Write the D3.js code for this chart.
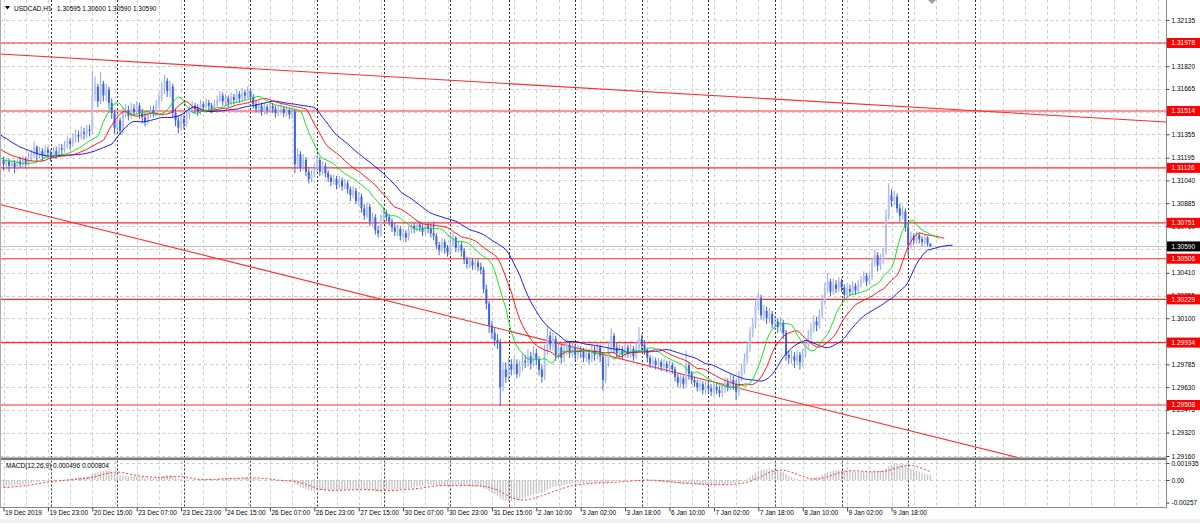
<!DOCTYPE html>
<html><head><meta charset="utf-8">
<script src="https://cdn.jsdelivr.net/npm/d3@7"></script>
<style>
body{margin:0;background:#fff;}
svg{display:block;}
text{font-family:"Liberation Sans",Arial,sans-serif;font-size:6.5px;fill:#000;}
</style>
</head><body>
<svg id="c" width="1200" height="523"></svg>
<script>
// ---------------- DATA ----------------
const symbolLabel = "USDCAD,H1";
const headerOHLC = "1.30595 1.30600 1.30590 1.30590";
const macdLabel = "MACD(12,26,9) 0.000496 0.000804";

const timeLabels = ["19 Dec 2019","19 Dec 23:00","20 Dec 15:00","23 Dec 07:00","23 Dec 23:00","24 Dec 15:00",
  "26 Dec 07:00","26 Dec 23:00","27 Dec 15:00","30 Dec 07:00","30 Dec 23:00","31 Dec 15:00","2 Jan 10:00",
  "3 Jan 02:00","3 Jan 18:00","6 Jan 10:00","7 Jan 02:00","7 Jan 18:00","8 Jan 10:00","9 Jan 02:00","9 Jan 18:00"];
const timeLabelBars = [0,16,32,48,64,80,96,112,128,144,160,176,192,208,224,240,256,272,288,304,320];
const daySeparatorBars = [17,41,65,89,113,137,161,182,206,230,254,278,302,326,350];

const priceTicks = [1.32135,1.31980,1.31820,1.31665,1.31510,1.31355,1.31195,1.31040,1.30885,1.30730,
  1.30575,1.30410,1.30255,1.30100,1.29945,1.29785,1.29630,1.29475,1.29320,1.29160];
const levelPrices = [1.31978,1.31514,1.31126,1.30751,1.30506,1.30229,1.29934,1.29508];
const bidPrice = 1.30590;

const macdTickValues = [0.001935, 0, -0.00257];
const macdTickLabels = ["0.001935","0.00","-0.00257"];

const trendUpper = [{bar:36, price:1.31862},{bar:413, price:1.31446}];
const trendLower = [{bar:0, price:1.30870},{bar:280, price:1.29552}];

// history before the visible window (used to warm up the indicators)
const priorCloses = [1.3168,1.3166,1.3169,1.3164,1.3160,1.3162,1.3158,1.3155,1.3157,1.3152,
  1.3150,1.3148,1.3151,1.3146,1.3143,1.3145,1.3140,1.3138,1.3141,1.3136,
  1.3133,1.3135,1.3131,1.3128,1.3130,1.3126,1.3124,1.3127,1.3122,1.3120,
  1.3123,1.3119,1.3117,1.3120,1.3116,1.3114,1.3117,1.3115,1.3113,1.3118];

const firstOpen = 1.3118;
const close = [
1.3115,1.3117,1.3114,1.3116,1.3113,1.3117,1.3115,1.3118,1.3116,1.3120,
1.3122,1.3127,1.3122,1.3124,1.3121,1.3125,1.3123,1.3121,1.3124,1.3122,
1.3126,1.3125,1.3128,1.3131,1.3129,1.3133,1.3135,1.3134,1.3137,1.3136,
1.3139,1.3138,1.3163,1.3168,1.3158,1.3170,1.3162,1.3166,1.3157,1.3150,
1.3140,1.3145,1.3138,1.3150,1.3152,1.3148,1.3153,1.3151,1.3155,1.3150,
1.3147,1.3144,1.3149,1.3152,1.3150,1.3155,1.3160,1.3167,1.3172,1.3165,
1.3168,1.3150,1.3145,1.3140,1.3146,1.3143,1.3149,1.3152,1.3155,1.3153,
1.3151,1.3156,1.3154,1.3157,1.3155,1.3153,1.3156,1.3159,1.3162,1.3158,
1.3160,1.3157,1.3161,1.3159,1.3163,1.3160,1.3164,1.3162,1.3165,1.3161,
1.3156,1.3153,1.3155,1.3151,1.3154,1.3152,1.3155,1.3153,1.3150,1.3152,
1.3153,1.3150,1.3152,1.3149,1.3151,1.3115,1.3122,1.3113,1.3118,1.3110,
1.3105,1.3108,1.3112,1.3118,1.3110,1.3114,1.3109,1.3106,1.3103,1.3105,
1.3101,1.3104,1.3100,1.3102,1.3098,1.3094,1.3097,1.3090,1.3093,1.3085,
1.3080,1.3086,1.3076,1.3079,1.3070,1.3068,1.3078,1.3082,1.3079,1.3076,
1.3072,1.3069,1.3071,1.3066,1.3068,1.3065,1.3070,1.3073,1.3071,1.3074,
1.3072,1.3069,1.3073,1.3071,1.3068,1.3066,1.3060,1.3057,1.3062,1.3058,
1.3055,1.3061,1.3065,1.3058,1.3060,1.3056,1.3050,1.3047,1.3049,1.3046,
1.3048,1.3045,1.3043,1.3030,1.3020,1.3005,1.3000,1.2995,1.2993,1.2963,
1.2975,1.2970,1.2978,1.2975,1.2979,1.2972,1.2977,1.2981,1.2980,1.2984,
1.2979,1.2986,1.2982,1.2975,1.2970,1.2988,1.2998,1.2992,1.2996,1.2985,
1.2990,1.2983,1.2988,1.2992,1.2986,1.2990,1.2985,1.2988,1.2987,1.2983,
1.2986,1.2982,1.2988,1.2985,1.2990,1.2984,1.2968,1.2980,1.2990,1.2998,
1.2990,1.2986,1.2988,1.2985,1.2990,1.2986,1.2989,1.2984,1.2990,1.2996,
1.2992,1.2988,1.2983,1.2979,1.2981,1.2978,1.2980,1.2977,1.2979,1.2976,
1.2978,1.2975,1.2970,1.2966,1.2969,1.2965,1.2978,1.2972,1.2968,1.2966,
1.2963,1.2965,1.2961,1.2964,1.2962,1.2960,1.2963,1.2961,1.2959,1.2962,
1.2966,1.2963,1.2968,1.2965,1.2960,1.2970,1.2975,1.2982,1.2990,1.3000,
1.3006,1.3018,1.3024,1.3012,1.3015,1.3010,1.3013,1.3006,1.3008,1.3004,
1.3007,1.3000,1.2985,1.2983,1.2984,1.2981,1.2985,1.2980,1.2986,1.2992,
1.2998,1.3003,1.3008,1.3005,1.3012,1.3022,1.3030,1.3035,1.3028,1.3033,
1.3030,1.3035,1.3031,1.3026,1.3030,1.3028,1.3032,1.3029,1.3033,1.3036,
1.3039,1.3035,1.3038,1.3048,1.3053,1.3046,1.3050,1.3055,1.3080,1.3094,
1.3090,1.3093,1.3085,1.3080,1.3083,1.3072,1.3060,1.3066,1.3063,1.3067,
1.3064,1.3062,1.3065,1.3061,1.3059];
const high = [
1.3120,1.3119,1.3119,1.3118,1.3118,1.3119,1.3120,1.3121,1.3120,1.3123,
1.3125,1.3131,1.3128,1.3127,1.3126,1.3128,1.3127,1.3125,1.3127,1.3127,
1.3129,1.3129,1.3131,1.3134,1.3133,1.3136,1.3139,1.3138,1.3141,1.3140,
1.3142,1.3142,1.3179,1.3175,1.3170,1.3178,1.3172,1.3170,1.3168,1.3160,
1.3152,1.3149,1.3147,1.3154,1.3156,1.3155,1.3157,1.3156,1.3158,1.3157,
1.3153,1.3150,1.3152,1.3155,1.3155,1.3159,1.3164,1.3171,1.3176,1.3174,
1.3172,1.3170,1.3153,1.3148,1.3149,1.3149,1.3152,1.3155,1.3158,1.3157,
1.3156,1.3159,1.3158,1.3160,1.3159,1.3157,1.3159,1.3162,1.3165,1.3164,
1.3163,1.3162,1.3164,1.3163,1.3166,1.3165,1.3167,1.3166,1.3168,1.3167,
1.3163,1.3158,1.3158,1.3157,1.3157,1.3156,1.3158,1.3157,1.3155,1.3155,
1.3156,1.3155,1.3155,1.3154,1.3154,1.3153,1.3126,1.3124,1.3122,1.3120,
1.3112,1.3111,1.3115,1.3122,1.3120,1.3117,1.3116,1.3111,1.3108,1.3108,
1.3107,1.3107,1.3106,1.3105,1.3104,1.3100,1.3100,1.3099,1.3096,1.3095,
1.3088,1.3089,1.3088,1.3082,1.3081,1.3073,1.3081,1.3086,1.3084,1.3081,
1.3078,1.3075,1.3074,1.3073,1.3071,1.3070,1.3073,1.3076,1.3075,1.3077,
1.3076,1.3074,1.3076,1.3075,1.3074,1.3076,1.3068,1.3062,1.3065,1.3064,
1.3060,1.3069,1.3068,1.3066,1.3063,1.3062,1.3058,1.3052,1.3052,1.3051,
1.3051,1.3050,1.3048,1.3045,1.3033,1.3022,1.3008,1.3004,1.2999,1.2996,
1.2980,1.2980,1.2983,1.2982,1.2984,1.2982,1.2981,1.2986,1.2985,1.2989,
1.2987,1.2991,1.2989,1.2984,1.2978,1.2992,1.3005,1.3001,1.3000,1.2998,
1.2994,1.2992,1.2992,1.2996,1.2994,1.2994,1.2992,1.2992,1.2991,1.2990,
1.2990,1.2989,1.2992,1.2991,1.2994,1.2992,1.2987,1.2984,1.2994,1.3003,
1.3000,1.2993,1.2992,1.2991,1.2993,1.2992,1.2993,1.2991,1.2994,1.3004,
1.2999,1.2995,1.2990,1.2985,1.2984,1.2983,1.2983,1.2982,1.2982,1.2981,
1.2981,1.2980,1.2977,1.2972,1.2972,1.2971,1.2988,1.2980,1.2974,1.2970,
1.2968,1.2968,1.2967,1.2967,1.2967,1.2965,1.2966,1.2966,1.2964,1.2966,
1.2970,1.2969,1.2972,1.2971,1.2968,1.2974,1.2979,1.2986,1.2994,1.3004,
1.3010,1.3022,1.3028,1.3026,1.3019,1.3018,1.3017,1.3015,1.3012,1.3010,
1.3011,1.3009,1.3002,1.2988,1.2988,1.2987,1.2988,1.2987,1.2989,1.2995,
1.3002,1.3007,1.3012,1.3011,1.3016,1.3026,1.3034,1.3041,1.3037,1.3037,
1.3036,1.3038,1.3037,1.3033,1.3033,1.3033,1.3035,1.3034,1.3036,1.3039,
1.3042,1.3041,1.3041,1.3051,1.3057,1.3055,1.3054,1.3058,1.3084,1.3102,
1.3098,1.3097,1.3095,1.3088,1.3087,1.3085,1.3075,1.3069,1.3068,1.3069,
1.3068,1.3066,1.3067,1.3066,1.3061];
const low = [
1.3111,1.3112,1.3110,1.3112,1.3109,1.3111,1.3113,1.3113,1.3113,1.3114,
1.3117,1.3119,1.3117,1.3119,1.3117,1.3119,1.3119,1.3117,1.3119,1.3119,
1.3120,1.3122,1.3123,1.3126,1.3125,1.3127,1.3130,1.3130,1.3132,1.3132,
1.3133,1.3134,1.3135,1.3158,1.3154,1.3156,1.3158,1.3158,1.3153,1.3146,
1.3136,1.3137,1.3135,1.3136,1.3147,1.3145,1.3146,1.3148,1.3149,1.3146,
1.3143,1.3141,1.3142,1.3147,1.3147,1.3148,1.3153,1.3158,1.3163,1.3161,
1.3161,1.3147,1.3141,1.3136,1.3138,1.3139,1.3141,1.3146,1.3150,1.3150,
1.3148,1.3149,1.3151,1.3152,1.3152,1.3150,1.3151,1.3154,1.3157,1.3155,
1.3155,1.3154,1.3155,1.3156,1.3157,1.3157,1.3158,1.3159,1.3160,1.3158,
1.3153,1.3150,1.3150,1.3148,1.3149,1.3149,1.3150,1.3150,1.3147,1.3148,
1.3149,1.3147,1.3148,1.3146,1.3146,1.3109,1.3112,1.3110,1.3111,1.3107,
1.3102,1.3103,1.3106,1.3110,1.3107,1.3108,1.3106,1.3103,1.3100,1.3101,
1.3098,1.3099,1.3097,1.3098,1.3095,1.3090,1.3092,1.3088,1.3087,1.3082,
1.3077,1.3078,1.3073,1.3073,1.3067,1.3065,1.3066,1.3076,1.3076,1.3073,
1.3069,1.3066,1.3066,1.3063,1.3063,1.3062,1.3063,1.3068,1.3068,1.3069,
1.3069,1.3066,1.3067,1.3068,1.3065,1.3063,1.3057,1.3053,1.3055,1.3054,
1.3052,1.3053,1.3059,1.3055,1.3055,1.3052,1.3047,1.3044,1.3044,1.3043,
1.3043,1.3042,1.3040,1.3027,1.3016,1.3000,1.2996,1.2991,1.2989,1.2950,
1.2960,1.2966,1.2967,1.2971,1.2972,1.2969,1.2970,1.2974,1.2976,1.2977,
1.2975,1.2977,1.2978,1.2971,1.2966,1.2968,1.2985,1.2988,1.2988,1.2981,
1.2982,1.2979,1.2980,1.2985,1.2983,1.2983,1.2981,1.2982,1.2983,1.2980,
1.2980,1.2979,1.2980,1.2981,1.2982,1.2980,1.2961,1.2966,1.2977,1.2987,
1.2986,1.2983,1.2983,1.2982,1.2983,1.2983,1.2983,1.2981,1.2982,1.2987,
1.2988,1.2985,1.2980,1.2976,1.2976,1.2975,1.2975,1.2974,1.2974,1.2973,
1.2973,1.2972,1.2967,1.2963,1.2963,1.2962,1.2963,1.2968,1.2965,1.2963,
1.2960,1.2960,1.2958,1.2958,1.2959,1.2957,1.2957,1.2958,1.2956,1.2956,
1.2959,1.2960,1.2961,1.2961,1.2954,1.2957,1.2967,1.2972,1.2979,1.2987,
1.2997,1.3003,1.3015,1.3009,1.3008,1.3006,1.3007,1.3003,1.3002,1.3000,
1.3001,1.2996,1.2981,1.2979,1.2979,1.2976,1.2978,1.2975,1.2977,1.2983,
1.2989,1.2995,1.3000,1.3001,1.3003,1.3010,1.3019,1.3027,1.3025,1.3026,
1.3027,1.3028,1.3028,1.3023,1.3024,1.3025,1.3026,1.3026,1.3027,1.3031,
1.3034,1.3032,1.3033,1.3036,1.3045,1.3042,1.3043,1.3047,1.3053,1.3077,
1.3086,1.3087,1.3082,1.3076,1.3077,1.3069,1.3052,1.3057,1.3060,1.3061,
1.3061,1.3059,1.3060,1.3059,1.3059];

// ---------------- LAYOUT ----------------
const plotRight = 1166, mainBottom = 457.5, macdTop = 460.5, macdBottom = 507;
const svg = d3.select("#c");
const x = d3.scaleLinear().domain([0, 320]).range([3.5, 3.5 + 320 * 2.775]);
const y = d3.scaleLinear().domain([1.29160, 1.32135]).range([456, 20]);
const ym = d3.scaleLinear().domain([-0.00257, 0.001935]).range([502.6, 463]);

svg.append("rect").attr("width",1200).attr("height",523).attr("fill","#fff");
svg.append("rect").attr("x",0).attr("y",519).attr("width",1200).attr("height",4).attr("fill","#f0f0f0");

const defs = svg.append("defs");
defs.append("clipPath").attr("id","clipMain").append("rect").attr("x",0).attr("y",0).attr("width",plotRight).attr("height",mainBottom);
defs.append("clipPath").attr("id","clipMacd").append("rect").attr("x",0).attr("y",macdTop).attr("width",plotRight).attr("height",macdBottom-macdTop);

const gMain = svg.append("g").attr("clip-path","url(#clipMain)");
const gMacd = svg.append("g").attr("clip-path","url(#clipMacd)");

// ---- grid ----
const gridBars = d3.range(0, 420, 8).filter(b => x(b) < plotRight);
[gMain, gMacd].forEach((g, idx) => {
  const y0 = idx === 0 ? 0 : macdTop, y1 = idx === 0 ? mainBottom : macdBottom;
  g.selectAll(null).data(gridBars).join("line")
    .attr("x1", d => Math.round(x(d)) + 0.5).attr("x2", d => Math.round(x(d)) + 0.5)
    .attr("y1", y0).attr("y2", y1)
    .attr("stroke", "#cdcdcd").attr("stroke-dasharray", "3,3");
});
gMain.selectAll(null).data(priceTicks).join("line")
  .attr("x1", 0).attr("x2", plotRight)
  .attr("y1", d => Math.round(y(d)) + 0.5).attr("y2", d => Math.round(y(d)) + 0.5)
  .attr("stroke", "#cdcdcd").attr("stroke-dasharray", "3,3");
gMacd.selectAll(null).data([0.001935, 0]).join("line")
  .attr("x1", 0).attr("x2", plotRight)
  .attr("y1", d => Math.round(ym(d)) + 0.5).attr("y2", d => Math.round(ym(d)) + 0.5)
  .attr("stroke", "#cdcdcd").attr("stroke-dasharray", "3,3");

// ---- day separators ----
[gMain, gMacd].forEach((g, idx) => {
  const y0 = idx === 0 ? 0 : macdTop, y1 = idx === 0 ? mainBottom : macdBottom;
  g.selectAll(null).data(daySeparatorBars.filter(b => x(b) < plotRight)).join("line")
    .attr("x1", d => Math.round(x(d)) + 0.5).attr("x2", d => Math.round(x(d)) + 0.5)
    .attr("y1", y0).attr("y2", y1)
    .attr("stroke", "#333").attr("stroke-dasharray", "2,2");
});

// ---- bid line ----
gMain.append("line").attr("x1",0).attr("x2",plotRight)
  .attr("y1", y(bidPrice)).attr("y2", y(bidPrice)).attr("stroke","#c0c0c0").attr("stroke-width",1);

// ---- horizontal levels ----
gMain.selectAll(null).data(levelPrices).join("line")
  .attr("x1",0).attr("x2",plotRight)
  .attr("y1", d => y(d)).attr("y2", d => y(d))
  .attr("stroke","#ff2a2a").attr("stroke-width",1.2);

// ---- trend lines (extended across the plot) ----
function extendLine(pts){
  const [a,b] = pts;
  const slope = (b.price - a.price) / (b.bar - a.bar);
  const b0 = x.invert(0), b1 = x.invert(plotRight);
  return [[b0, a.price + slope*(b0 - a.bar)], [b1, a.price + slope*(b1 - a.bar)]];
}
const lineGen = d3.line().x(d => x(d[0])).y(d => y(d[1]));
[trendUpper, trendLower].forEach(t => {
  gMain.append("path").attr("d", lineGen(extendLine(t)))
    .attr("fill","none").attr("stroke","#ff2a2a").attr("stroke-width",1.1);
});

// ---- candles ----
const bars = close.map((c,i) => ({i, o: i===0 ? firstOpen : close[i-1], h: high[i], l: low[i], c}));
const cg = gMain.append("g");
cg.selectAll("line.w").data(bars).join("line").attr("class","w")
  .attr("x1", d => x(d.i)).attr("x2", d => x(d.i))
  .attr("y1", d => y(d.h)).attr("y2", d => y(d.l))
  .attr("stroke", d => d.c >= d.o ? "#8fa5ea" : "#3d63dc").attr("stroke-width", 1);
cg.selectAll("rect.b").data(bars).join("rect").attr("class","b")
  .attr("x", d => x(d.i) - 1).attr("width", 2)
  .attr("y", d => y(Math.max(d.o,d.c)))
  .attr("height", d => Math.max(0.8, Math.abs(y(d.o) - y(d.c))))
  .attr("fill", d => d.c >= d.o ? "#b4c3f3" : "#3d63dc");

// ---- Alligator (SMMA of median price, shifted) ----
const P = priorCloses.length;
const medianAll = priorCloses.concat(close.map((c,i) => (high[i] + low[i]) / 2));
function smma(src, n){
  const out = []; let s = null;
  src.forEach((v,k) => {
    if (k < n-1) { out.push(null); return; }
    s = (k === n-1) ? d3.mean(src.slice(0, n)) : (s*(n-1) + v)/n;
    out.push(s);
  });
  return out;
}
function shifted(arr, shift){
  const pts = [];
  arr.forEach((v,k) => { if (v == null) return; const b = k - P + shift; if (b >= -3) pts.push([b, v]); });
  return pts;
}
const alligator = [
  {n:13, shift:8, color:"#0000ff"},
  {n:8,  shift:5, color:"#ff0000"},
  {n:5,  shift:3, color:"#00e000"}
];
alligator.forEach(a => {
  gMain.append("path").attr("d", lineGen(shifted(smma(medianAll, a.n), a.shift)))
    .attr("fill","none").attr("stroke",a.color).attr("stroke-width",0.9);
});

// ---- MACD ----
const closeAll = priorCloses.concat(close);
function ema(src, n){ const a = 2/(n+1); let e; return src.map((v,k) => (e = k===0 ? v : e + a*(v-e))); }
const e12 = ema(closeAll, 12), e26 = ema(closeAll, 26);
const macdAll = e12.map((v,k) => v - e26[k]);
const sigAll = macdAll.map((v,k) => k < 8 ? null : d3.mean(macdAll.slice(k-8, k+1)));
const macdVis = macdAll.slice(P).map((v,i) => ({i, v}));
const sigVis = sigAll.slice(P).map((v,i) => [i, v]);
gMacd.selectAll(null).data(macdVis).join("line")
  .attr("x1", d => x(d.i)).attr("x2", d => x(d.i))
  .attr("y1", ym(0)).attr("y2", d => ym(d.v))
  .attr("stroke","#c4c4c4").attr("stroke-width",1.3);
gMacd.append("path").attr("d", d3.line().x(d => x(d[0])).y(d => ym(d[1]))(sigVis))
  .attr("fill","none").attr("stroke","#ff3030").attr("stroke-width",1).attr("stroke-dasharray","2,2");

// ---- frame ----
svg.append("rect").attr("x",0).attr("y",mainBottom).attr("width",plotRight).attr("height",2.6).attr("fill","#7a7a7a");
svg.append("line").attr("x1",0).attr("x2",plotRight+0.5).attr("y1",macdBottom+0.5).attr("y2",macdBottom+0.5).attr("stroke","#888");
svg.append("line").attr("x1",plotRight+0.5).attr("x2",plotRight+0.5).attr("y1",0).attr("y2",macdBottom+0.5).attr("stroke","#888");
svg.append("line").attr("x1",0.5).attr("x2",0.5).attr("y1",0).attr("y2",macdBottom).attr("stroke","#aaa");

// ---- price axis ----
const ax = svg.append("g").attr("transform",`translate(${plotRight+0.5},0)`)
  .call(d3.axisRight(y).tickValues(priceTicks).tickSize(3).tickPadding(2).tickFormat(d => d.toFixed(5)));
ax.select(".domain").remove();
ax.selectAll("line").attr("stroke","#444");
ax.selectAll("text").style("font-size","6.5px").attr("fill","#000");

const axm = svg.append("g").attr("transform",`translate(${plotRight+0.5},0)`)
  .call(d3.axisRight(ym).tickValues(macdTickValues).tickSize(3).tickPadding(2).tickFormat((d,i) => macdTickLabels[i]));
axm.select(".domain").remove();
axm.selectAll("line").attr("stroke","#444");
axm.selectAll("text").style("font-size","6.5px").attr("fill","#000");

// level label boxes
const boxes = levelPrices.map(p => ({p, fill:"#ff0000"})).concat([{p: bidPrice, fill:"#000"}]);
const bg = svg.append("g");
bg.selectAll("rect").data(boxes).join("rect")
  .attr("x", plotRight + 1).attr("width", 33).attr("y", d => y(d.p) - 5).attr("height", 10)
  .attr("fill", d => d.fill);
bg.selectAll("text").data(boxes).join("text")
  .attr("x", plotRight + 5.5).attr("y", d => y(d.p)).attr("dy","0.35em")
  .style("fill","#fff").text(d => d.p.toFixed(5));

// ---- time axis ----
const tax = svg.append("g").attr("transform",`translate(0,${macdBottom+0.5})`)
  .call(d3.axisBottom(x).tickValues(timeLabelBars).tickSize(4).tickPadding(2).tickFormat((d,i) => timeLabels[i]));
tax.select(".domain").remove();
tax.selectAll("line").attr("stroke","#444");
tax.selectAll("text").style("font-size","6.5px").attr("fill","#000")
  .attr("text-anchor","start").attr("dx","1").attr("y",3).attr("dy","0.75em");

// ---- titles ----
svg.append("path").attr("d","M5,6 L10,6 L7.5,9.5 Z").attr("fill","#000");
svg.append("text").attr("x",14).attr("y",8.5).attr("dy","0.35em").text(symbolLabel);
svg.append("text").attr("x",57).attr("y",8.5).attr("dy","0.35em").text(headerOHLC);
svg.append("text").attr("x",6).attr("y",466).attr("dy","0.35em").text(macdLabel);
// chart shift marker
svg.append("path").attr("d","M928,0 L936,0 L932,4 Z").attr("fill","#a0a0a0");
</script>
</body></html>
